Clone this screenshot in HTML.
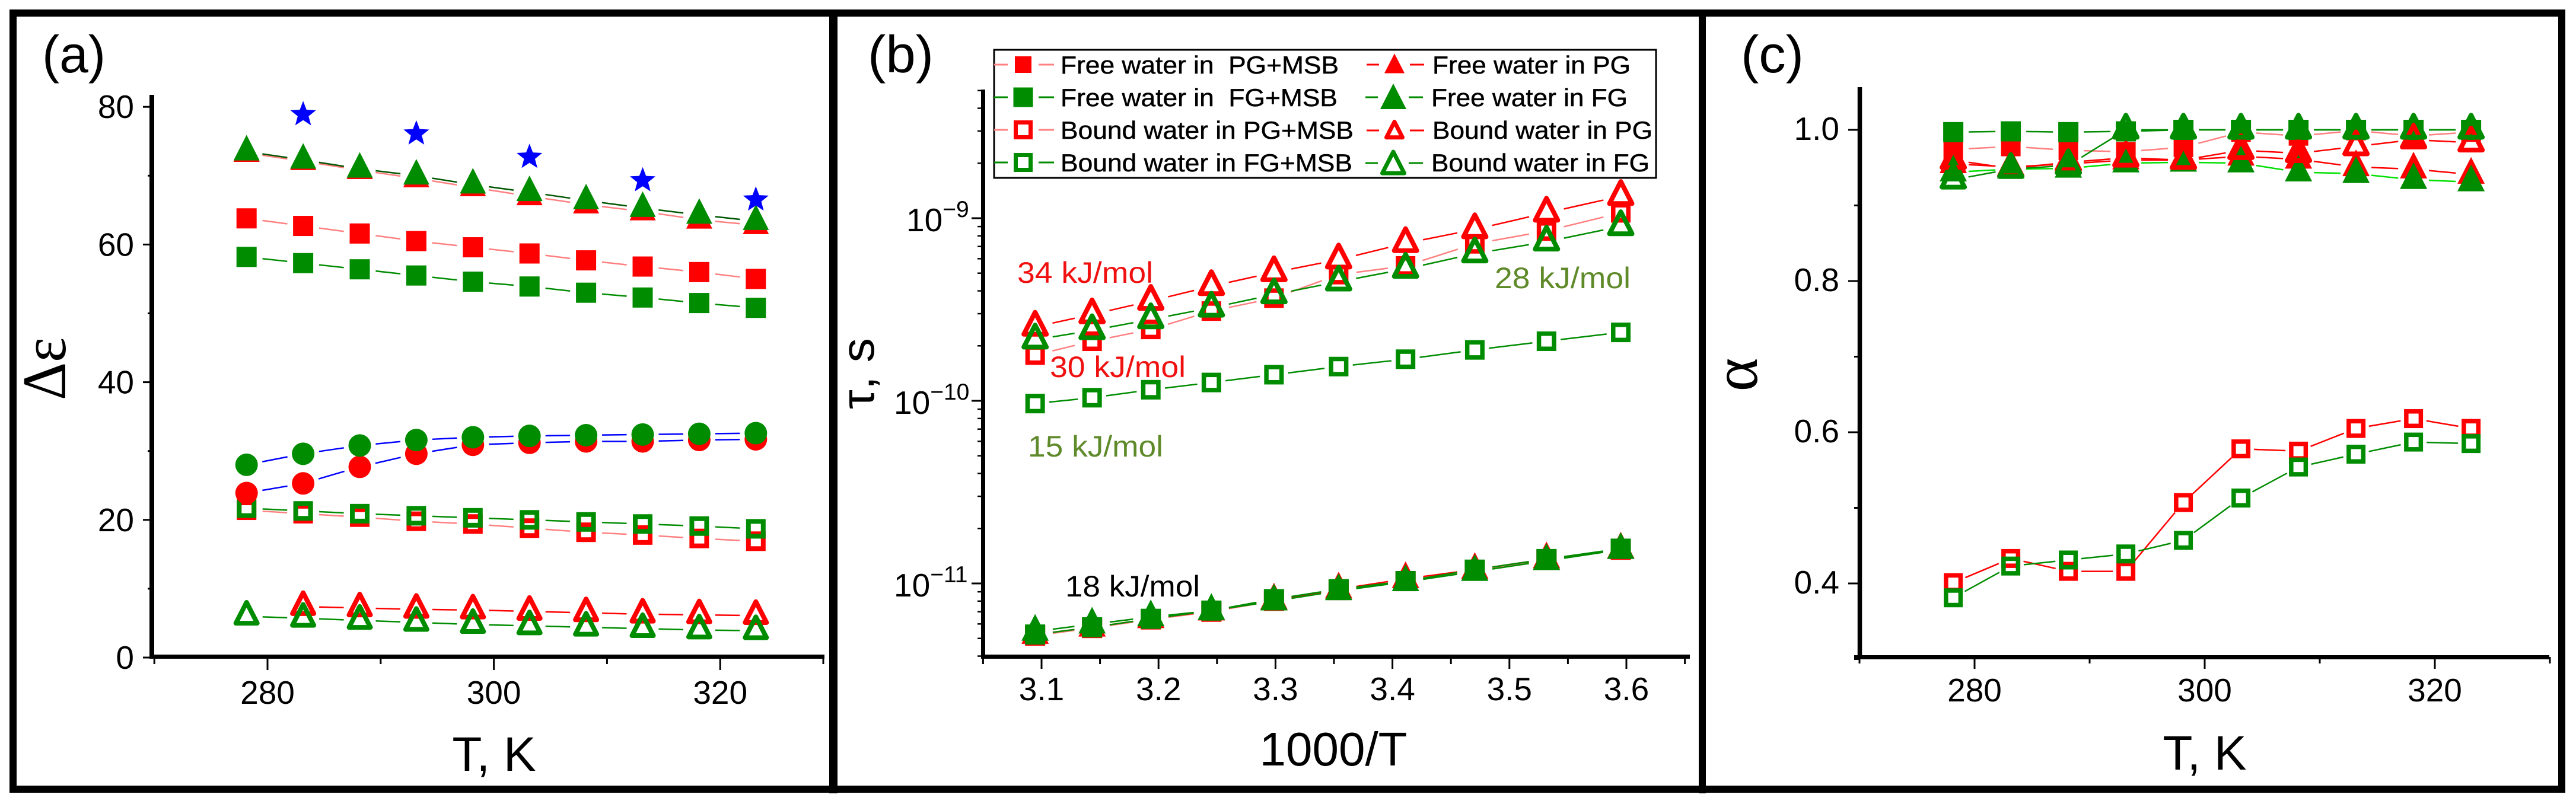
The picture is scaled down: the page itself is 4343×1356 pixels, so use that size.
<!DOCTYPE html>
<html lang="en">
<head>
<meta charset="utf-8">
<title>Dielectric relaxation parameters of water in PG and FG systems</title>
<style>
html,body{margin:0;padding:0;background:#fff;width:4343px;height:1356px;overflow:hidden}
svg{display:block}
text{font-family:"Liberation Sans",sans-serif;fill:#000}
.serif{font-family:"Liberation Serif",serif}
#legend text{stroke:#000;stroke-width:.5px}
</style>
</head>
<body>
<svg id="figure" xmlns="http://www.w3.org/2000/svg" width="4343" height="1356" viewBox="0 0 4343 1356">
  <rect x="0" y="0" width="4343" height="1356" fill="#fff"/>
  <rect x="22" y="22" width="4297" height="1309" fill="none" stroke="#000" stroke-width="12"/>
  <rect x="1398" y="16" width="14" height="1322" fill="#000"/>
  <rect x="2864" y="16" width="12" height="1322" fill="#000"/>

  <g id="panel-a"></g>
  <g id="panel-b"></g>
  <g id="panel-c"></g>

  <text x="71" y="122" font-size="88" textLength="107" lengthAdjust="spacingAndGlyphs">(a)</text>
  <text x="1463" y="122" font-size="88" textLength="111" lengthAdjust="spacingAndGlyphs">(b)</text>
  <text x="2935" y="122" font-size="88" textLength="106" lengthAdjust="spacingAndGlyphs">(c)</text>

  <text x="833" y="1300" font-size="82" text-anchor="middle">T, K</text>
  <text x="2248" y="1291" font-size="80" text-anchor="middle">1000/T</text>
  <text x="3717" y="1298" font-size="82" text-anchor="middle">T, K</text>

  <text class="serif" transform="translate(110,622) rotate(-90)" font-size="105" text-anchor="middle" textLength="106" lengthAdjust="spacingAndGlyphs">Δε</text>
  <text transform="translate(1473,630) rotate(-90)" font-size="78" text-anchor="middle" textLength="120" lengthAdjust="spacingAndGlyphs">τ, s</text>
  <text class="serif" transform="translate(2962,632) rotate(-90)" font-size="108" text-anchor="middle">α</text>

  <g id="legend">
    <rect x="1676" y="84" width="1116" height="216" fill="#fff" stroke="#000" stroke-width="3"/>
    <text x="1788" y="124" font-size="42" textLength="469" lengthAdjust="spacingAndGlyphs" xml:space="preserve">Free water in  PG+MSB</text>
    <text x="1788" y="179" font-size="42" textLength="467" lengthAdjust="spacingAndGlyphs" xml:space="preserve">Free water in  FG+MSB</text>
    <text x="1788" y="234" font-size="42" textLength="494" lengthAdjust="spacingAndGlyphs">Bound water in PG+MSB</text>
    <text x="1788" y="289" font-size="42" textLength="492" lengthAdjust="spacingAndGlyphs">Bound water in FG+MSB</text>
    <text x="2415" y="124" font-size="42" textLength="334" lengthAdjust="spacingAndGlyphs">Free water in PG</text>
    <text x="2413" y="179" font-size="42" textLength="331" lengthAdjust="spacingAndGlyphs">Free water in FG</text>
    <text x="2415" y="234" font-size="42" textLength="371" lengthAdjust="spacingAndGlyphs">Bound water in PG</text>
    <text x="2413" y="289" font-size="42" textLength="368" lengthAdjust="spacingAndGlyphs">Bound water in FG</text>
  </g>

  <text x="1715" y="477" font-size="50" textLength="229" lengthAdjust="spacingAndGlyphs" style="fill:#f01010">34 kJ/mol</text>
  <text x="1770" y="636" font-size="50" textLength="229" lengthAdjust="spacingAndGlyphs" style="fill:#f01010">30 kJ/mol</text>
  <text x="2520" y="486" font-size="50" textLength="229" lengthAdjust="spacingAndGlyphs" style="fill:#5f8a2a">28 kJ/mol</text>
  <text x="1733" y="770" font-size="50" textLength="228" lengthAdjust="spacingAndGlyphs" style="fill:#5f8a2a">15 kJ/mol</text>
  <text x="1796" y="1006" font-size="50" textLength="227" lengthAdjust="spacingAndGlyphs">18 kJ/mol</text>
</svg>

<script>
// ---------- shared categories ----------
const temperatureK = [278.15, 283.15, 288.15, 293.15, 298.15, 303.15, 308.15, 313.15, 318.15, 323.15];
const inverseT = [3.0945, 3.1432, 3.1934, 3.2452, 3.2987, 3.3540, 3.4112, 3.4704, 3.5317, 3.5952];
const starTemperatureK = [283.15, 293.15, 303.15, 313.15, 323.15];

// ---------- panel (a) values: delta epsilon ----------
const aStars = [78.9, 76.1, 72.7, 69.3, 66.5];
const aFreeFG = [73.5, 72.3, 71.0, 70.0, 68.7, 67.6, 66.4, 65.3, 64.3, 63.4];
const aFreePG = [73.3, 72.1, 70.8, 69.6, 68.3, 67.0, 65.8, 64.8, 63.6, 62.8];
const aFreePGMSB = [63.8, 62.7, 61.6, 60.5, 59.6, 58.7, 57.7, 56.8, 56.0, 55.0];
const aFreeFGMSB = [58.2, 57.3, 56.4, 55.5, 54.6, 53.9, 53.0, 52.3, 51.5, 50.8];
const aCircleRed = [23.9, 25.3, 27.7, 29.6, 30.9, 31.2, 31.4, 31.4, 31.6, 31.7];
const aCircleGreen = [28.0, 29.6, 30.8, 31.6, 32.0, 32.2, 32.3, 32.4, 32.5, 32.6];
const aBoundPGMSB = [21.4, 20.9, 20.4, 19.8, 19.4, 18.8, 18.2, 17.8, 17.3, 16.9];
const aBoundFGMSB = [21.7, 21.3, 20.9, 20.6, 20.3, 20.0, 19.7, 19.4, 19.1, 18.7];
const aBoundPG = [null, 7.4, 7.2, 7.0, 6.9, 6.7, 6.5, 6.3, 6.2, 6.1];
const aBoundFG = [6.0, 5.7, 5.4, 5.1, 4.8, 4.6, 4.4, 4.2, 4.0, 3.9];

// ---------- panel (b) values: tau in seconds ----------
const bBoundPG = [2.54e-10, 2.97e-10, 3.52e-10, 4.24e-10, 5.05e-10, 5.93e-10, 7.29e-10, 8.68e-10, 1.07e-9, 1.32e-9];
const bBoundFG = [2.16e-10, 2.43e-10, 2.79e-10, 3.23e-10, 3.82e-10, 4.49e-10, 5.27e-10, 6.40e-10, 7.43e-10, 9.02e-10];
const bBoundPGMSB = [1.78e-10, 2.12e-10, 2.46e-10, 3.10e-10, 3.65e-10, 4.91e-10, 5.48e-10, 7.24e-10, 8.51e-10, 1.07e-9];
const bBoundFGMSB = [9.66e-11, 1.04e-10, 1.15e-10, 1.26e-10, 1.39e-10, 1.54e-10, 1.69e-10, 1.90e-10, 2.12e-10, 2.37e-10];
const bFreePGMSB = [5.18e-12, 5.70e-12, 6.35e-12, 7.00e-12, 8.03e-12, 9.20e-12, 1.03e-11, 1.18e-11, 1.35e-11, 1.53e-11];
const bFreePG = [5.25e-12, 5.75e-12, 6.40e-12, 7.05e-12, 8.10e-12, 9.30e-12, 1.06e-11, 1.19e-11, 1.36e-11, 1.54e-11];
const bFreeFGMSB = [5.25e-12, 5.75e-12, 6.40e-12, 7.10e-12, 8.20e-12, 9.30e-12, 1.03e-11, 1.19e-11, 1.36e-11, 1.55e-11];
const bFreeFG = [5.46e-12, 5.98e-12, 6.55e-12, 7.10e-12, 8.00e-12, 9.10e-12, 1.02e-11, 1.16e-11, 1.33e-11, 1.53e-11];

// ---------- panel (c) values: alpha ----------
const cFreePGMSB = [0.974, 0.978, 0.973, 0.971, 0.977, 0.997, 0.992, 0.999, 0.992, 0.997];
const cFreeFGMSB = [0.997, 0.998, 0.997, 0.998, 1.000, 1.000, 1.000, 1.000, 1.000, 1.000];
const cFreeFG = [0.944, 0.948, 0.949, 0.956, 0.957, 0.956, 0.944, 0.942, 0.934, 0.931];
const cFreePG = [0.955, 0.951, 0.955, 0.960, 0.960, 0.965, 0.961, 0.951, 0.948, 0.941];
const cBoundPG = [0.960, 0.949, 0.957, 0.963, 0.960, 0.973, 0.969, 0.978, 0.987, 0.983];
const cBoundFG = [0.934, 0.948, 0.953, 1.000, 1.000, 1.000, 1.000, 1.000, 1.000, 1.000];
const cBoundPGMSB = [0.401, 0.433, 0.416, 0.416, 0.507, 0.578, 0.575, 0.605, 0.618, 0.605];
const cBoundFGMSB = [0.381, 0.423, 0.431, 0.439, 0.457, 0.513, 0.554, 0.571, 0.587, 0.585];

// ---------- tick values ----------
const aXTicks = [280, 300, 320];
const aXMinorTicks = [270, 290, 310, 330];
const aYTicks = [0, 20, 40, 60, 80];
const aYMinorTicks = [10, 30, 50, 70];
const bXTicks = [3.1, 3.2, 3.3, 3.4, 3.5, 3.6];
const bXMinorTicks = [3.05, 3.15, 3.25, 3.35, 3.45, 3.55, 3.65];
const bYExponents = [-9, -10, -11];
const bYMinorTicks = [4e-12, 5e-12, 6e-12, 7e-12, 8e-12, 9e-12, 2e-11, 3e-11, 4e-11, 5e-11, 6e-11, 7e-11, 8e-11, 9e-11, 2e-10, 3e-10, 4e-10, 5e-10, 6e-10, 7e-10, 8e-10, 9e-10, 2e-9, 3e-9, 4e-9, 5e-9];
const cXTicks = [280, 300, 320];
const cXMinorTicks = [270, 290, 310, 330];
const cYTicks = [0.4, 0.6, 0.8, 1.0];
const cYMinorTicks = [0.3, 0.5, 0.7, 0.9];

// ---------- axis functions ----------
const aX = v => 451 + (v - 280) * 19.08;
const aY = v => 1109 - v * 11.61;
const bX = v => 1756 + (v - 3.1) * 1972;
const bY = v => 368 - (Math.log10(v) + 9) * 308;
const cX = v => 3329 + (v - 280) * 19.4;
const cY = v => 219 + (1 - v) * 1275;

const NS = 'http://www.w3.org/2000/svg';
const RED = '#ff0000', GREEN = '#008c00', PALE = '#ff8080', BLUE = '#0000ff', LIME = '#00e000';

function make(parent, tag, attrs) {
  const el = document.createElementNS(NS, tag);
  for (const k in attrs) el.setAttribute(k, attrs[k]);
  parent.appendChild(el);
  return el;
}

function drawMarker(parent, shape, cx, cy, size, color, filled, sw) {
  let el;
  const fill = filled ? color : 'none';
  const strokeW = filled ? 0 : sw;
  if (shape === 'square') {
    const s = filled ? size : size - sw;
    el = make(parent, 'rect', {x: cx - s / 2, y: cy - s / 2, width: s, height: s, fill: fill, stroke: color, 'stroke-width': strokeW});
  } else if (shape === 'triangle') {
    const w = (filled ? size : size - sw) / 2;
    const up = (filled ? size * 0.64 : size * 0.64 - sw * 0.6);
    const dn = (filled ? size * 0.34 : size * 0.34 - sw * 0.4);
    el = make(parent, 'polygon', {points: (cx - w) + ',' + (cy + dn) + ' ' + (cx + w) + ',' + (cy + dn) + ' ' + cx + ',' + (cy - up), fill: fill, stroke: color, 'stroke-width': strokeW, 'stroke-linejoin': 'round'});
  } else if (shape === 'circle') {
    el = make(parent, 'circle', {cx: cx, cy: cy, r: size / 2, fill: fill, stroke: color, 'stroke-width': strokeW});
  } else {
    const pts = [];
    for (let i = 0; i < 10; i++) {
      const r = i % 2 ? size * 0.23 : size * 0.54;
      const t = -Math.PI / 2 + i * Math.PI / 5;
      pts.push((cx + r * Math.cos(t)) + ',' + (cy + r * Math.sin(t)));
    }
    el = make(parent, 'polygon', {points: pts.join(' '), fill: fill});
  }
  return el;
}

function drawSeries(panel, xs, ys, xFn, yFn, cfg) {
  const g = make(panel, 'g', {});
  
  
  let prev = null;
  xs.forEach((xv, i) => {
    if (ys[i] === null) { prev = null; return; }
    const px = xFn(xv), py = yFn(ys[i]);
    if (prev && cfg.line) {
      const dx = px - prev[0], dy = py - prev[1], d = Math.hypot(dx, dy);
      const gap = cfg.gap;
      if (d > 2 * gap) {
        const seg = make(g, 'line', {x1: prev[0] + dx * gap / d, y1: prev[1] + dy * gap / d, x2: px - dx * gap / d, y2: py - dy * gap / d, stroke: cfg.line, 'stroke-width': cfg.lw || 3});
        
        
      }
    }
    prev = [px, py];
  });
  xs.forEach((xv, i) => {
    if (ys[i] === null) return;
    const m = drawMarker(g, cfg.shape, xFn(xv), yFn(ys[i]), cfg.size, cfg.color, cfg.filled, cfg.sw);
    
    
  });
}

function rule(parent, x1, y1, x2, y2, w, name) {
  const l = make(parent, 'line', {x1: x1, y1: y1, x2: x2, y2: y2, stroke: '#000', 'stroke-width': w});
  
  
  return l;
}

function label(parent, x, y, size, anchor, str, name) {
  const t = make(parent, 'text', {x: x, y: y, 'font-size': size, 'text-anchor': anchor});
  t.textContent = str;
  
  
  return t;
}

// ---------- panel (a) ----------
const pa = document.getElementById('panel-a');
aXTicks.forEach(v => { rule(pa, aX(v), 1108, aX(v), 1130, 3, 'x-tick'); label(pa, aX(v), 1187, 55, 'middle', String(v), 'x-tick-label'); });
aXMinorTicks.forEach(v => rule(pa, Math.min(aX(v), 1388), 1108, Math.min(aX(v), 1388), 1120, 3, 'x-minor-tick'));
aYTicks.forEach(v => { rule(pa, 241, aY(v), 256, aY(v), 3, 'y-tick'); label(pa, 226, aY(v) + 19, 55, 'end', String(v), 'y-tick-label'); });
aYMinorTicks.forEach(v => rule(pa, 249, aY(v), 256, aY(v), 3, 'y-minor-tick'));
rule(pa, 256, 160, 256, 1111, 8, 'y-axis');
rule(pa, 253, 1107.5, 1390, 1107.5, 7, 'x-axis');

const mk = {gap: 27, lw: 2.5};
drawSeries(pa, temperatureK, aBoundPGMSB, aX, aY, {name: 'bound-water-pg-msb', shape: 'square', size: 33, color: RED, filled: false, sw: 8, line: PALE, ...mk});
drawSeries(pa, temperatureK, aBoundFGMSB, aX, aY, {name: 'bound-water-fg-msb', shape: 'square', size: 33, color: GREEN, filled: false, sw: 8, line: GREEN, ...mk});
drawSeries(pa, temperatureK, aBoundPG, aX, aY, {name: 'bound-water-pg', shape: 'triangle', size: 44, color: RED, filled: false, sw: 8, line: RED, ...mk});
drawSeries(pa, temperatureK, aBoundFG, aX, aY, {name: 'bound-water-fg', shape: 'triangle', size: 44, color: GREEN, filled: false, sw: 8, line: GREEN, ...mk});
drawSeries(pa, temperatureK, aFreePGMSB, aX, aY, {name: 'free-water-pg-msb', shape: 'square', size: 34, color: RED, filled: true, line: PALE, ...mk});
drawSeries(pa, temperatureK, aFreeFGMSB, aX, aY, {name: 'free-water-fg-msb', shape: 'square', size: 34, color: GREEN, filled: true, line: GREEN, ...mk});
drawSeries(pa, temperatureK, aCircleRed, aX, aY, {name: 'circle-series-red', shape: 'circle', size: 38, color: RED, filled: true, line: BLUE, ...mk});
drawSeries(pa, temperatureK, aCircleGreen, aX, aY, {name: 'circle-series-green', shape: 'circle', size: 38, color: GREEN, filled: true, line: BLUE, ...mk});
drawSeries(pa, temperatureK, aFreePG, aX, aY, {name: 'free-water-pg', shape: 'triangle', size: 44, color: RED, filled: true, line: PALE, ...mk});
drawSeries(pa, temperatureK, aFreeFG, aX, aY, {name: 'free-water-fg', shape: 'triangle', size: 44, color: GREEN, filled: true, line: '#005500', ...mk});
drawSeries(pa, starTemperatureK, aStars, aX, aY, {name: 'star-series', shape: 'star', size: 42, color: BLUE, filled: true, line: null, gap: 0});

// ---------- panel (b) ----------
const pb = document.getElementById('panel-b');
bXTicks.forEach(v => { rule(pb, bX(v), 1108, bX(v), 1128, 3, 'x-tick'); label(pb, bX(v), 1181, 55, 'middle', v.toFixed(1), 'x-tick-label'); });
bXMinorTicks.forEach(v => rule(pb, bX(v), 1108, bX(v), 1120, 3, 'x-minor-tick'));
bYExponents.forEach(e => {
  const y = bY(Math.pow(10, e));
  rule(pb, 1638, y, 1657, y, 3, 'y-tick');
  const t = label(pb, e === -9 ? 1528 : 1507, y + 22, 55, 'start', '10', 'y-tick-label');
  const s = make(t, 'tspan', {'font-size': 39, dy: -24});
  s.textContent = '\u2212' + Math.abs(e);
});
bYMinorTicks.forEach(v => rule(pb, 1648, bY(v), 1657, bY(v), 2.5, 'y-minor-tick'));
rule(pb, 1657.5, 151, 1657.5, 1111, 7, 'y-axis');
rule(pb, 1654, 1107.5, 2849, 1107.5, 7, 'x-axis');

const mb = {gap: 30, lw: 2.5};
drawSeries(pb, inverseT, bBoundFGMSB, bX, bY, {name: 'bound-water-fg-msb', shape: 'square', size: 33, color: GREEN, filled: false, sw: 7.5, line: GREEN, gap: 24, lw: 2.5});
drawSeries(pb, inverseT, bBoundPGMSB, bX, bY, {name: 'bound-water-pg-msb', shape: 'square', size: 33, color: RED, filled: false, sw: 7.5, line: PALE, ...mb});
drawSeries(pb, inverseT, bBoundPG, bX, bY, {name: 'bound-water-pg', shape: 'triangle', size: 46, color: RED, filled: false, sw: 8, line: RED, ...mb});
drawSeries(pb, inverseT, bBoundFG, bX, bY, {name: 'bound-water-fg', shape: 'triangle', size: 46, color: GREEN, filled: false, sw: 8, line: GREEN, ...mb});
drawSeries(pb, inverseT, bFreePGMSB, bX, bY, {name: 'free-water-pg-msb', shape: 'square', size: 34, color: RED, filled: true, line: PALE, ...mb});
drawSeries(pb, inverseT, bFreePG, bX, bY, {name: 'free-water-pg', shape: 'triangle', size: 46, color: RED, filled: true, line: RED, ...mb});
drawSeries(pb, inverseT, bFreeFG, bX, bY, {name: 'free-water-fg', shape: 'triangle', size: 46, color: GREEN, filled: true, line: GREEN, ...mb});
drawSeries(pb, inverseT, bFreeFGMSB, bX, bY, {name: 'free-water-fg-msb', shape: 'square', size: 34, color: GREEN, filled: true, line: GREEN, ...mb});

// ---------- panel (c) ----------
const pc = document.getElementById('panel-c');
cXTicks.forEach(v => { rule(pc, cX(v), 1108, cX(v), 1128, 3, 'x-tick'); label(pc, cX(v), 1183, 55, 'middle', String(v), 'x-tick-label'); });
cXMinorTicks.forEach(v => rule(pc, cX(v), 1108, cX(v), 1119, 3, 'x-minor-tick'));
cYTicks.forEach(v => { rule(pc, 3116, cY(v), 3134, cY(v), 3, 'y-tick'); label(pc, 3101, cY(v) + 17, 55, 'end', v.toFixed(1), 'y-tick-label'); });
cYMinorTicks.forEach(v => rule(pc, 3126, cY(v), 3134, cY(v), 3, 'y-minor-tick'));
rule(pc, 3135.5, 147, 3135.5, 1112, 7.5, 'y-axis');
rule(pc, 3126, 1108.5, 4298, 1108.5, 7, 'x-axis');

const mc = {gap: 26, lw: 2.5};
drawSeries(pc, temperatureK, cFreePGMSB, cX, cY, {name: 'free-water-pg-msb', shape: 'square', size: 33, color: RED, filled: true, line: PALE, ...mc});
drawSeries(pc, temperatureK, cFreePG, cX, cY, {name: 'free-water-pg', shape: 'triangle', size: 46, color: RED, filled: true, line: RED, ...mc});
drawSeries(pc, temperatureK, cFreeFG, cX, cY, {name: 'free-water-fg', shape: 'triangle', size: 46, color: GREEN, filled: true, line: LIME, ...mc});
drawSeries(pc, temperatureK, cFreeFGMSB, cX, cY, {name: 'free-water-fg-msb', shape: 'square', size: 34, color: GREEN, filled: true, line: GREEN, ...mc});
drawSeries(pc, temperatureK, cBoundPG, cX, cY, {name: 'bound-water-pg', shape: 'triangle', size: 46, color: RED, filled: false, sw: 8, line: RED, ...mc});
drawSeries(pc, temperatureK, cBoundFG, cX, cY, {name: 'bound-water-fg', shape: 'triangle', size: 46, color: GREEN, filled: false, sw: 8, line: GREEN, ...mc});
drawSeries(pc, temperatureK, cBoundPGMSB, cX, cY, {name: 'bound-water-pg-msb', shape: 'square', size: 32, color: RED, filled: false, sw: 7.5, line: RED, gap: 22, lw: 2.5});
drawSeries(pc, temperatureK, cBoundFGMSB, cX, cY, {name: 'bound-water-fg-msb', shape: 'square', size: 32, color: GREEN, filled: false, sw: 7.5, line: GREEN, gap: 22, lw: 2.5});

// ---------- legend samples ----------
const legendGroup = document.getElementById('legend');
const legendSamples = [
  {cx: 1725, cy: 109, shape: 'square', filled: true, color: RED, line: PALE, size: 28},
  {cx: 1725, cy: 164, shape: 'square', filled: true, color: GREEN, line: GREEN, size: 33},
  {cx: 1725, cy: 219, shape: 'square', filled: false, color: RED, line: PALE, size: 32},
  {cx: 1725, cy: 274, shape: 'square', filled: false, color: GREEN, line: GREEN, size: 32},
  {cx: 2351, cy: 112, shape: 'triangle', filled: true, color: RED, line: RED, size: 34},
  {cx: 2349, cy: 169, shape: 'triangle', filled: true, color: GREEN, line: GREEN, size: 44},
  {cx: 2351, cy: 223, shape: 'triangle', filled: false, color: RED, line: RED, size: 34},
  {cx: 2349, cy: 280, shape: 'triangle', filled: false, color: GREEN, line: GREEN, size: 44}
];
legendSamples.forEach(s => {
  const left = s.cx < 2000;
  const y = left ? s.cy : s.cy - (s.size > 40 ? 5 : 3);
  const x0 = left ? 1676 : s.cx - 47, x1 = left ? 1777 : s.cx + 50;
  const a = make(legendGroup, 'line', {x1: x0, y1: y, x2: s.cx - 26, y2: y, stroke: s.line, 'stroke-width': 3});
  
  
  const b = make(legendGroup, 'line', {x1: s.cx + 26, y1: y, x2: x1, y2: y, stroke: s.line, 'stroke-width': 3});
  
  
  const m = drawMarker(legendGroup, s.shape, s.cx, s.cy, s.size, s.color, s.filled, 7);
  
  
});
</script>
</body>
</html>
